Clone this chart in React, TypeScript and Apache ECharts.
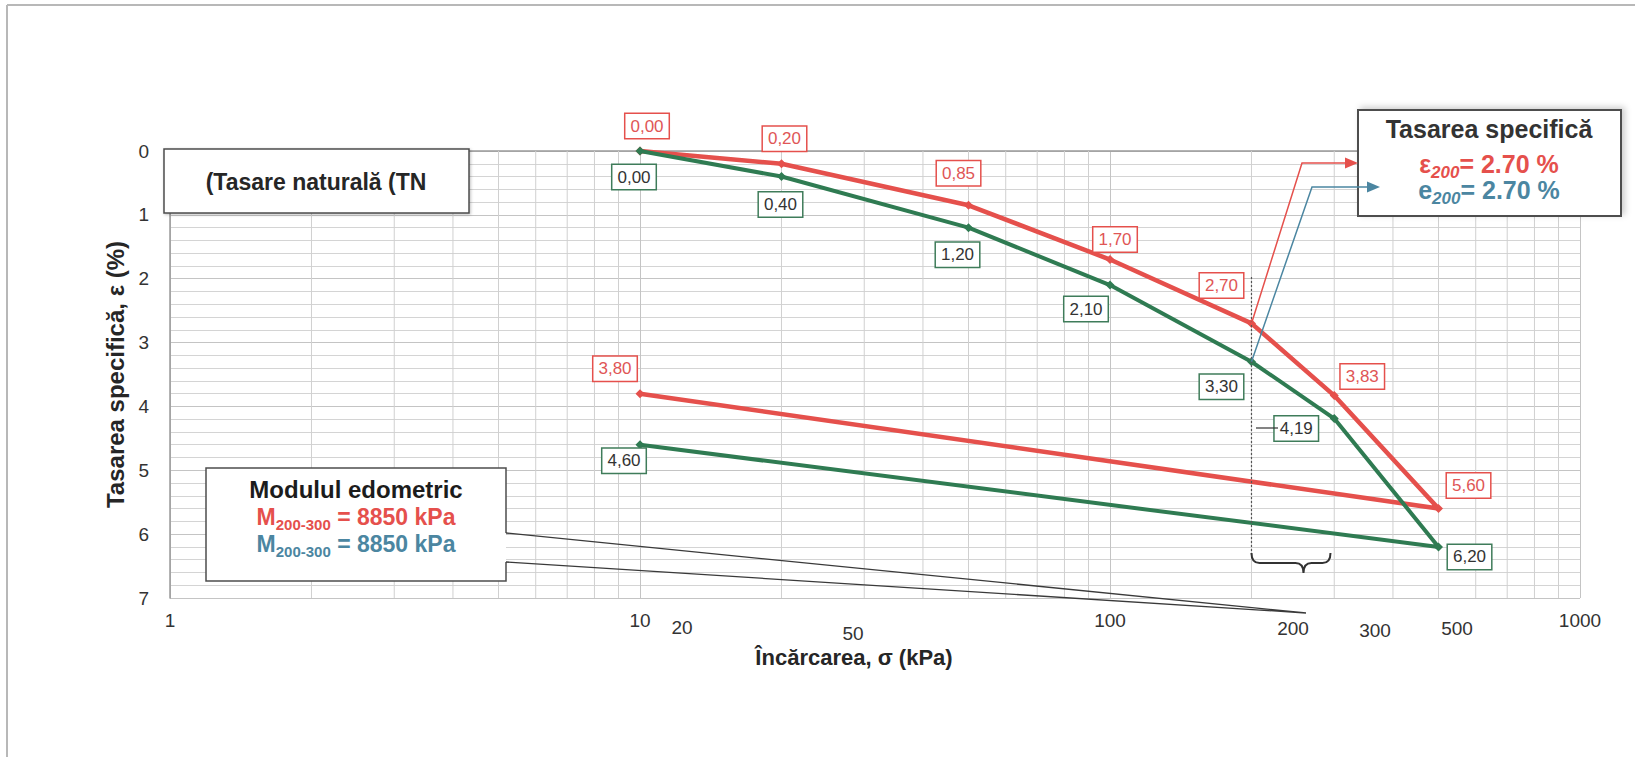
import React, { useEffect, useRef } from 'react';
import * as echarts from 'echarts';

// ---- data ----
const loadKPa = [10, 20, 50, 100, 200, 300, 500, 10];
const redStrain = [0, 0.2, 0.85, 1.7, 2.7, 3.83, 5.6, 3.8];
const greenStrain = [0, 0.4, 1.2, 2.1, 3.3, 4.19, 6.2, 4.6];
const xMin = 1;
const xMax = 1000;
const yMin = 0;
const yMax = 7;
const minorGridX = [2, 3, 4, 5, 6, 7, 8, 9, 20, 30, 40, 50, 60, 70, 80, 90, 200, 300, 400, 500, 600, 700, 800, 900];
const extraTickLabels = ['20', '50', '200', '300', '500'];
const yTitle = 'Tasarea specifică, ε (%)';
const xTitle = 'Încărcarea, σ (kPa)';

// ---- layout / style (not data) ----
const redLabelOffsets = [[7, -25], [3, -25], [-10, -32], [5, -20], [-30, -38], [28, -19], [30, -23], [-25, -25]];
const greenLabelOffsets = [[-6, 26], [-1, 28], [-11, 27], [-24, 24], [-30, 25], [-38, 10], [31, 10], [-16, 16]];
const extraTickPos = [[682, 627], [853, 633], [1293, 628], [1375, 630], [1457, 628]];

const RED = '#e5504c';
const RED_TXT = '#e05656';
const GREEN = '#2f7b52';
const GREEN_BORDER = '#3f7c5a';
const BLUE = '#4b86a1';
const BOX = '#4d4d4d';
const FONT = "'Liberation Sans', Arial, Helvetica, sans-serif";

const fmt = (v: number) => v.toFixed(2).replace('.', ',');

echarts.graphic.registerShape(
  'brace',
  echarts.graphic.extendPath('M0,0 Q0,10 8,10 L44,10 Q52,10 52,20 Q52,10 60,10 L71,10 Q79,10 79,0', {})
);

export default function App() {
  const ref = useRef<HTMLDivElement>(null);
  useEffect(() => {
    if (!ref.current) return;
    const chart = echarts.init(ref.current, undefined, { renderer: 'svg' });

    const labelBase = {
      show: true,
      position: 'inside',
      fontSize: 17,
      fontFamily: FONT,
      backgroundColor: '#ffffff',
      borderWidth: 1.5,
      padding: [4, 5, 3, 5],
      formatter: (p: any) => fmt(p.value[1]),
    };

    chart.setOption({
      animation: false,
      backgroundColor: '#ffffff',
      grid: { left: 170, right: 55, top: 151, bottom: 159, containLabel: false },
      xAxis: {
        type: 'log',
        logBase: 10,
        min: xMin,
        max: xMax,
        axisLine: { show: true, lineStyle: { color: '#9a9a9a', width: 1.5 } },
        axisTick: { show: false },
        axisLabel: {
          color: '#333',
          fontSize: 19,
          fontFamily: FONT,
          margin: 13,
          formatter: (v: number) => String(v),
        },
        splitLine: { show: true, lineStyle: { color: '#c4c4c4', width: 1 } },
        minorTick: { show: false },
      },
      yAxis: {
        type: 'value',
        inverse: true,
        min: yMin,
        max: yMax,
        interval: 1,
        name: yTitle,
        nameLocation: 'middle',
        nameRotate: 90,
        nameGap: 39,
        nameTextStyle: { fontSize: 24, fontWeight: 'bold', color: '#262626', fontFamily: FONT },
        axisLine: { show: true, lineStyle: { color: '#9a9a9a', width: 1.5 } },
        axisTick: { show: false },
        axisLabel: { color: '#333', fontSize: 19, fontFamily: FONT, margin: 21 },
        splitLine: { show: true, lineStyle: { color: '#c4c4c4', width: 1 } },
        minorTick: { show: false, splitNumber: 5 },
        minorSplitLine: { show: true, lineStyle: { color: '#d4d4d4', width: 1 } },
      },
      series: [
        {
          type: 'custom',
          silent: true,
          z: 1,
          data: minorGridX.map((v) => [v, yMin]),
          encode: { x: 0, y: 1 },
          renderItem: (params: any, api: any) => {
            const x = api.value(0);
            const p1 = api.coord([x, yMin]);
            const p2 = api.coord([x, yMax]);
            return {
              type: 'line',
              shape: { x1: p1[0], y1: p1[1], x2: p2[0], y2: p2[1] },
              style: { stroke: '#d0d0d0', lineWidth: 1 },
            };
          },
        },
        {
          type: 'line',
          name: 'red',
          z: 3,
          symbol: 'diamond',
          symbolSize: 9,
          lineStyle: { color: RED, width: 4.5 },
          itemStyle: { color: RED },
          label: { ...labelBase, color: RED_TXT, borderColor: RED },
          data: loadKPa.map((x, i) => ({ value: [x, redStrain[i]], label: { offset: redLabelOffsets[i] } })),
        },
        {
          type: 'line',
          name: 'green',
          z: 4,
          symbol: 'diamond',
          symbolSize: 9,
          lineStyle: { color: GREEN, width: 4 },
          itemStyle: { color: GREEN },
          label: { ...labelBase, color: '#333', borderColor: GREEN_BORDER },
          data: loadKPa.map((x, i) => ({ value: [x, greenStrain[i]], label: { offset: greenLabelOffsets[i] } })),
        },
      ],
    });

    const i200 = loadKPa.indexOf(200);
    const pRed = chart.convertToPixel({ gridIndex: 0 }, [200, redStrain[i200]]) as number[];
    const pGreen = chart.convertToPixel({ gridIndex: 0 }, [200, greenStrain[i200]]) as number[];
    const x200 = pRed[0];

    const Z = 50;
    const subRich = (color: string, main: number, sub: number, italic: boolean, drop: number) => ({
      m: { fontSize: main, fontWeight: 'bold', fontFamily: FONT, fill: color, color },
      s: {
        fontSize: sub,
        fontWeight: 'bold',
        fontStyle: italic ? 'italic' : 'normal',
        fontFamily: FONT,
        fill: color,
        color,
        padding: [drop, 0, 0, 0],
      },
    });

    const graphics: any[] = [
      // scan frame
      { type: 'line', z: Z, shape: { x1: 7, y1: 5, x2: 1635, y2: 5 }, style: { stroke: '#b8b8b8', lineWidth: 2 } },
      { type: 'line', z: Z, shape: { x1: 7, y1: 5, x2: 7, y2: 757 }, style: { stroke: '#b8b8b8', lineWidth: 2 } },
      // TN box
      {
        type: 'rect', z: Z,
        shape: { x: 164, y: 149, width: 305, height: 64 },
        style: { fill: '#fff', stroke: BOX, lineWidth: 1.5, shadowBlur: 3, shadowColor: 'rgba(0,0,0,0.25)', shadowOffsetX: 1, shadowOffsetY: 1 },
      },
      {
        type: 'text', z: Z + 1, x: 316, y: 182,
        style: { text: '(Tasare naturală (TN', fontSize: 23, fontWeight: 'bold', fontFamily: FONT, fill: '#262626', align: 'center', verticalAlign: 'middle' },
      },
      // Modulul box
      { type: 'rect', z: Z, shape: { x: 206, y: 468, width: 300, height: 113 }, style: { fill: '#fff', stroke: 'none' } },
      {
        type: 'polyline', z: Z + 1,
        shape: { points: [[506, 533], [506, 468], [206, 468], [206, 581], [506, 581], [506, 562]] },
        style: { stroke: BOX, lineWidth: 1.5, fill: 'none' },
      },
      {
        type: 'polyline', z: Z + 1,
        shape: { points: [[506, 533], [1306, 613], [506, 562]] },
        style: { stroke: '#3a3a3a', lineWidth: 1.3, fill: 'none' },
      },
      {
        type: 'text', z: Z + 2, x: 356, y: 489,
        style: { text: 'Modulul edometric', fontSize: 24, fontWeight: 'bold', fontFamily: FONT, fill: '#1c1c1c', align: 'center', verticalAlign: 'middle' },
      },
      {
        type: 'text', z: Z + 2, x: 356, y: 517,
        style: { text: '{m|M}{s|200-300}{m| = 8850 kPa}', rich: subRich(RED, 23, 15, false, 14), align: 'center', verticalAlign: 'middle' },
      },
      {
        type: 'text', z: Z + 2, x: 356, y: 544,
        style: { text: '{m|M}{s|200-300}{m| = 8850 kPa}', rich: subRich(BLUE, 23, 15, false, 14), align: 'center', verticalAlign: 'middle' },
      },
      // Top-right box
      {
        type: 'rect', z: Z,
        shape: { x: 1358, y: 110, width: 263, height: 106 },
        style: { fill: '#fff', stroke: BOX, lineWidth: 2, shadowBlur: 6, shadowColor: 'rgba(0,0,0,0.2)', shadowOffsetX: 3, shadowOffsetY: -2 },
      },
      {
        type: 'text', z: Z + 1, x: 1489, y: 129,
        style: { text: 'Tasarea specifică', fontSize: 25, fontWeight: 'bold', fontFamily: FONT, fill: '#333', align: 'center', verticalAlign: 'middle' },
      },
      {
        type: 'text', z: Z + 1, x: 1489, y: 164,
        style: { text: '{m|ε}{s|200}{m|= 2.70 %}', rich: subRich(RED, 25, 17, true, 16), align: 'center', verticalAlign: 'middle' },
      },
      {
        type: 'text', z: Z + 1, x: 1489, y: 190,
        style: { text: '{m|e}{s|200}{m|= 2.70 %}', rich: subRich(BLUE, 25, 17, true, 16), align: 'center', verticalAlign: 'middle' },
      },
      // arrows
      {
        type: 'polyline', z: Z + 2,
        shape: { points: [[pRed[0], pRed[1]], [1302, 163], [1347, 163]] },
        style: { stroke: RED, lineWidth: 1.5, fill: 'none' },
      },
      { type: 'polygon', z: Z + 2, shape: { points: [[1358, 163], [1345, 157.5], [1345, 168.5]] }, style: { fill: RED } },
      {
        type: 'polyline', z: Z + 2,
        shape: { points: [[pGreen[0], pGreen[1]], [1312, 187], [1369, 187]] },
        style: { stroke: BLUE, lineWidth: 1.5, fill: 'none' },
      },
      { type: 'polygon', z: Z + 2, shape: { points: [[1380, 187], [1367, 181.5], [1367, 192.5]] }, style: { fill: BLUE } },
      // dotted vertical at 200 and brace
      {
        type: 'line', z: Z,
        shape: { x1: x200, y1: 277, x2: x200, y2: 556 },
        style: { stroke: '#555', lineWidth: 1.2, lineDash: [2, 2] },
      },
      { type: 'brace', z: Z, x: x200, y: 553, style: { stroke: '#333', lineWidth: 2, fill: 'none' } },
      // leader for 4,19
      { type: 'line', z: Z, shape: { x1: 1256, y1: 428, x2: 1278, y2: 428 }, style: { stroke: '#333', lineWidth: 1.2 } },
      // x title
      {
        type: 'text', z: Z, x: 854, y: 657,
        style: { text: xTitle, fontSize: 22, fontWeight: 'bold', fontFamily: FONT, fill: '#262626', align: 'center', verticalAlign: 'middle' },
      },
      // extra (manually placed) tick labels
      ...extraTickLabels.map((t, i) => ({
        type: 'text', z: Z, x: extraTickPos[i][0], y: extraTickPos[i][1],
        style: { text: t, fontSize: 19, fontFamily: FONT, fill: '#333', align: 'center', verticalAlign: 'middle' },
      })),
    ];

    chart.setOption({ graphic: graphics });

    return () => chart.dispose();
  }, []);

  return <div ref={ref} style={{ position: 'fixed', left: 0, top: 0, width: 1635, height: 757 }} />;
}
